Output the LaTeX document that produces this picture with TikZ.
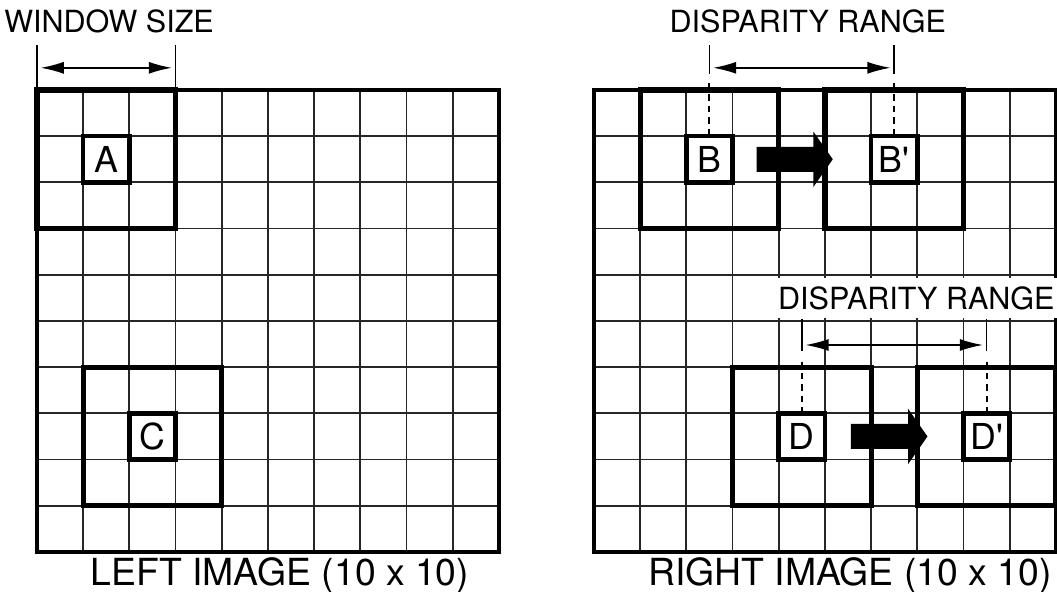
\documentclass[tikz,border=0pt]{standalone}
\usepackage{fontspec}
\setmainfont{TeX Gyre Heros}
\usetikzlibrary{arrows.meta,calc}
\begin{document}
\begin{tikzpicture}[x=1cm,y=1cm,
 gridline/.style={line width=1.1pt, black!85},
 border/.style={line width=2.2pt, black},
 win/.style={draw, line width=3.2pt, minimum size=3cm, inner sep=0pt, outer sep=0pt},
 cellbox/.style={draw, line width=2.8pt, minimum size=1cm, inner sep=0pt, outer sep=0pt, font=\fontsize{22}{22}\selectfont},
 lbl/.style={font=\fontsize{18.8}{20}\selectfont, inner sep=0pt},
 title/.style={font=\fontsize{23}{24}\selectfont, inner sep=0pt, anchor=base},
 tickline/.style={line width=1.1pt},
 dashtick/.style={line width=1.3pt, dash pattern=on 4pt off 3pt},
 dim/.style={line width=0.9pt, {Latex[length=5mm,width=2.6mm]}-{Latex[length=5mm,width=2.6mm]}, shorten <=0.08cm, shorten >=0.08cm},
 bigarrow/.style={fill=black}
]
\useasboundingbox (-0.80,-0.866) rectangle (22.08,11.948);

% ---------------- left image ----------------
\draw[gridline] (0,0) grid (10,10);
\draw[border] (0,0) rectangle (10,10);
\node[win] (WA) at (1.5,8.5) {};
\node[cellbox] (A) at (1.5,8.5) {A};
\node[win] (WC) at (2.5,2.5) {};
\node[cellbox] (C) at (2.5,2.5) {C};

\coordinate (wsL) at ($(WA.north west)+(0,0.97)$);
\coordinate (wsR) at ($(WA.north east)+(0,0.97)$);
\coordinate (wsLa) at ($(WA.north west)+(0,0.48)$);
\coordinate (wsRa) at ($(WA.north east)+(0,0.48)$);
\draw[tickline] (WA.north west) -- (wsL);
\draw[tickline] (WA.north east) -- (wsR);
\draw[dim] (wsLa) -- (wsRa);
\node[lbl] (wsize) at (1.56,11.49) {WINDOW SIZE};
\node[title] (ltitle) at (5.26,-0.72) {LEFT IMAGE (10 x 10)};

% ---------------- right image ----------------
\begin{scope}[xshift=12.056cm]
\draw[gridline] (0,0) grid (10,10);
\draw[border] (0,0) rectangle (10,10);
\node[win] (WB) at (2.5,8.5) {};
\node[cellbox] (B) at (2.5,8.5) {B};
\node[win] (WBp) at (6.5,8.5) {};
\node[cellbox] (Bp) at (6.5,8.5) {B\textquotesingle};
\node[win] (WD) at (4.5,2.5) {};
\node[cellbox] (D) at (4.5,2.5) {D};
\node[win] (WDp) at (8.5,2.5) {};
\node[cellbox] (Dp) at (8.5,2.5) {D\textquotesingle};

% big arrows
\fill[bigarrow] ($(B.east)+(0.52,0.27)$) -- ($(B.east)+(1.75,0.27)$) -- ($(B.east)+(1.75,0.6)$)
  -- ($(B.east)+(2.17,0)$) -- ($(B.east)+(1.75,-0.6)$) -- ($(B.east)+(1.75,-0.27)$)
  -- ($(B.east)+(0.52,-0.27)$) -- cycle;
\fill[bigarrow] ($(D.east)+(0.56,0.27)$) -- ($(D.east)+(1.8,0.27)$) -- ($(D.east)+(1.8,0.6)$)
  -- ($(D.east)+(2.22,0)$) -- ($(D.east)+(1.8,-0.6)$) -- ($(D.east)+(1.8,-0.27)$)
  -- ($(D.east)+(0.56,-0.27)$) -- cycle;

% top disparity range
\coordinate (bT) at ($(B.north)+(0,1.97)$);
\coordinate (bM) at ($(B.north)+(0,1.35)$);
\coordinate (bD) at ($(B.north)+(0,1.15)$);
\coordinate (bA) at ($(B.north)+(0,1.48)$);
\coordinate (bpT) at ($(Bp.north)+(0,1.97)$);
\coordinate (bpM) at ($(Bp.north)+(0,1.35)$);
\coordinate (bpD) at ($(Bp.north)+(0,1.15)$);
\coordinate (bpA) at ($(Bp.north)+(0,1.48)$);
\draw[tickline] (bT) -- (bM);
\draw[dashtick] (bD) -- (B.north);
\draw[tickline] (bpT) -- (bpM);
\draw[dashtick] (bpD) -- (Bp.north);
\draw[dim] (bA) -- (bpA);
\node[lbl] (dr1) at (4.63,11.49) {DISPARITY RANGE};

% lower disparity range
\node[lbl, fill=white, inner xsep=3pt, minimum height=0.88cm] (dr2) at (6.98,5.5) {DISPARITY RANGE};
\coordinate (dT) at ($(D.north)+(0,2.05)$);
\coordinate (dM) at ($(D.north)+(0,1.35)$);
\coordinate (dD) at ($(D.north)+(0,1.12)$);
\coordinate (dA) at ($(D.north)+(0,1.48)$);
\coordinate (dpT) at ($(Dp.north)+(0,2.05)$);
\coordinate (dpM) at ($(Dp.north)+(0,1.35)$);
\coordinate (dpD) at ($(Dp.north)+(0,1.12)$);
\coordinate (dpA) at ($(Dp.north)+(0,1.48)$);
\draw[tickline] (dT) -- (dM);
\draw[dashtick] (dD) -- (D.north);
\draw[tickline] (dpT) -- (dpM);
\draw[dashtick] (dpD) -- (Dp.north);
\draw[dim] (dA) -- (dpA);

\node[title] (rtitle) at (5.54,-0.72) {RIGHT IMAGE (10 x 10)};
\end{scope}
\end{tikzpicture}
\end{document}
